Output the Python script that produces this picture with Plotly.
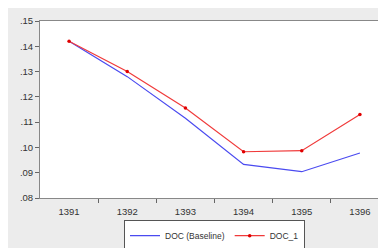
import plotly.graph_objects as go

years = [1391, 1392, 1393, 1394, 1395, 1396]
baseline = [0.1420, 0.1280, 0.1115, 0.0933, 0.0904, 0.0978]
doc1 = [0.1420, 0.1300, 0.1156, 0.0983, 0.0987, 0.1130]
ytick_vals = [0.08, 0.09, 0.10, 0.11, 0.12, 0.13, 0.14, 0.15]
ytick_text = [".08", ".09", ".10", ".11", ".12", ".13", ".14", ".15"]

fig = go.Figure()
fig.add_trace(go.Scatter(x=years, y=baseline, mode="lines", name="DOC (Baseline)",
                         line=dict(color="#4a4af0", width=1.2)))
fig.add_trace(go.Scatter(x=years, y=doc1, mode="lines+markers", name="DOC_1",
                         line=dict(color="#f03a3a", width=1.2),
                         marker=dict(color="#e00000", size=3.5, symbol="circle")))

fig.update_layout(
    width=386, height=248,
    margin=dict(l=32, r=5, t=13, b=46),
    paper_bgcolor="#ececec", plot_bgcolor="white",
    font=dict(family="Liberation Sans, Arial", size=9.5, color="#333"),
    showlegend=True,
    legend=dict(orientation="h", x=0.5, xanchor="center", y=-0.125, yanchor="top",
                bgcolor="white", bordercolor="#555", borderwidth=1,
                font=dict(size=8.5), itemwidth=30, tracegroupgap=0),
)
fig.update_xaxes(range=[1390.5, 1396.5], tickvals=years, ticktext=[str(y) for y in years],
                 ticks="", showgrid=False, zeroline=False, ticklabelstandoff=5,
                 showline=True, linecolor="#888", linewidth=1, mirror=True,
                 minor=dict(tickvals=[1391.5, 1392.5, 1393.5, 1394.5, 1395.5], ticks="outside",
                            ticklen=4, tickcolor="#666", showgrid=False))
fig.update_yaxes(range=[0.08, 0.15], tickvals=ytick_vals, ticktext=ytick_text,
                 ticks="outside", ticklen=4, tickcolor="#666", showgrid=False, zeroline=False,
                 showline=True, linecolor="#888", linewidth=1, mirror=True)

fig.write_html("out.html")
